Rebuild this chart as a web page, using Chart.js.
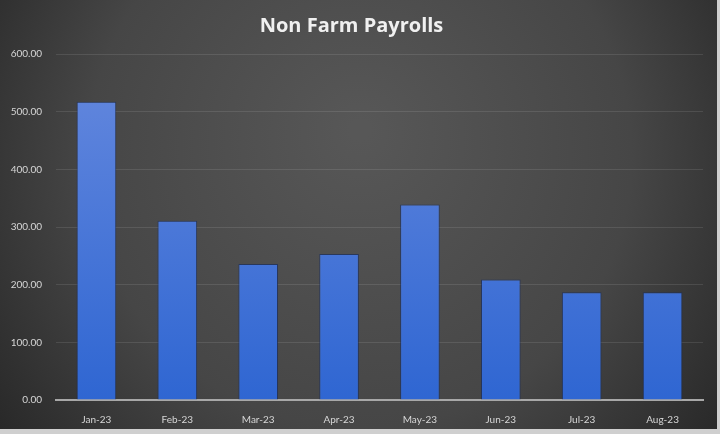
<!DOCTYPE html>
<html lang="en">
<head>
<meta charset="UTF-8">
<script src="https://cdn.jsdelivr.net/npm/chart.js"></script>
<title>Non Farm Payrolls</title>
<style>
  html, body { margin: 0; padding: 0; background: #d4d4d4; }
  canvas { display: block; }
</style>
</head>
<body>
<canvas id="nfpChart" width="720" height="434"></canvas>
<script>
// months and payroll figures (thousands)
const months = ['Jan-23', 'Feb-23', 'Mar-23', 'Apr-23', 'May-23', 'Jun-23', 'Jul-23', 'Aug-23'];
const payrolls = [517, 311, 236, 253, 339, 209, 187, 187];
const yTicks = [0, 100, 200, 300, 400, 500, 600];

// dark slide-style background, lighter in the middle
const backdrop = {
    id: 'backdrop',
    beforeDraw(chart) {
        const c = chart.ctx;
        const w = chart.width, h = chart.height;
        c.save();
        c.fillStyle = '#cfcfcf';
        c.fillRect(0, 0, w, h);
        const g = c.createRadialGradient(w * 0.5, h * 0.3, 10, w * 0.5, h * 0.4, w * 0.62);
        g.addColorStop(0, '#575757');
        g.addColorStop(0.6, '#464646');
        g.addColorStop(1, '#282828');
        c.fillStyle = g;
        c.fillRect(0, 0, 717, 429);
        c.restore();
    }
};

function barFill(context) {
    const area = context.chart.chartArea;
    if (!area) return '#4a75d6';
    const g = context.chart.ctx.createLinearGradient(0, area.top, 0, area.bottom);
    g.addColorStop(0, '#6689de');
    g.addColorStop(1, '#2f66d2');
    return g;
}

new Chart(document.getElementById('nfpChart').getContext('2d'), {
    type: 'bar',
    data: {
        labels: months,
        datasets: [{
            label: 'Non Farm Payrolls',
            data: payrolls,
            backgroundColor: barFill,
            borderColor: 'rgba(25, 45, 95, 0.7)',
            borderWidth: 1,
            barPercentage: 0.49,
            categoryPercentage: 1.0
        }]
    },
    plugins: [backdrop],
    options: {
        responsive: false,
        animation: false,
        layout: { padding: { left: 0, right: 17, top: 0, bottom: 0 } },
        plugins: {
            legend: { display: false },
            tooltip: { enabled: false },
            title: {
                display: true,
                text: 'Non Farm Payrolls',
                color: '#f0f0f0',
                font: { family: 'Open Sans', size: 20, weight: 'bold' },
                padding: { top: 14, bottom: 16 }
            }
        },
        scales: {
            x: {
                grid: { display: false },
                border: { color: '#a8a8a8', width: 2 },
                ticks: {
                    color: '#d6d6d6',
                    font: { family: 'Lato', size: 10 },
                    padding: 6
                },
                afterFit(scale) { scale.height = 34; }
            },
            y: {
                min: 0,
                max: 600,
                afterBuildTicks(scale) { scale.ticks = yTicks.map(v => ({ value: v })); },
                border: { display: false },
                grid: {
                    color: ctx => ctx.tick && ctx.tick.value === 0 ? 'rgba(0,0,0,0)' : 'rgba(255,255,255,0.1)',
                    lineWidth: 1,
                    drawTicks: false
                },
                ticks: {
                    color: '#d6d6d6',
                    font: { family: 'Lato', size: 10 },
                    padding: 14,
                    callback: v => v.toFixed(2)
                },
                afterFit(scale) { scale.width = 56; }
            }
        }
    }
});
</script>
</body>
</html>
